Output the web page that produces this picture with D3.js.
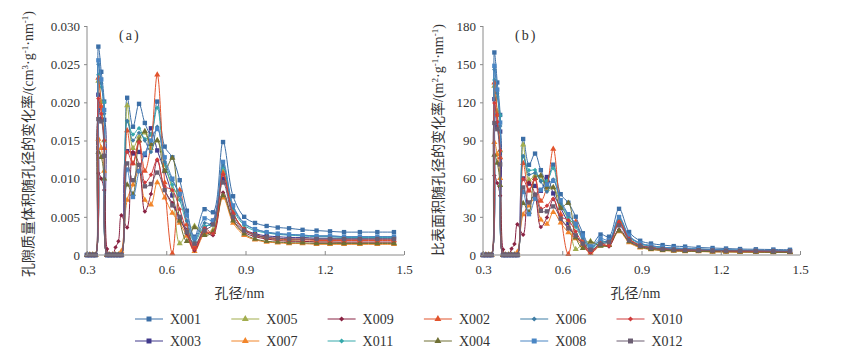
<!DOCTYPE html>
<html>
<head>
<meta charset="utf-8">
<script src="https://cdn.jsdelivr.net/npm/d3@7"></script>
<style>
  body { margin: 0; background: #fff; }
  svg { display: block; }
</style>
</head>
<body>
<div id="chart"></div>
<script>
// pore width grid (nm), shared by every series
const poreWidth = [0.300, 0.311, 0.322, 0.332, 0.343, 0.354, 0.365, 0.376, 0.386, 0.397, 0.408, 0.419, 0.430,
  0.452, 0.474, 0.497, 0.519, 0.542, 0.566, 0.594, 0.623, 0.651, 0.678, 0.707, 0.745, 0.777, 0.815,
  0.853, 0.895, 0.936, 0.980, 1.022, 1.065, 1.116, 1.169, 1.220, 1.273, 1.333, 1.399, 1.462];

// (a) pore volume change rate, cm3/g/nm
const volX001 = [0,0,0,0,0.0273,0.0240,0.0201,0,0,0,0,0,0, 0.0206,0.0168,0.0198,0.0173,0.0158,0.0201,0.0142,0.0128,0.0098,0.0058,0.0024,0.0060,0.0056,0.0148, 0.0077,0.0050,0.0042,0.0038,0.0036,0.0035,0.0033,0.0032,0.0031,0.0030,0.0030,0.0030,0.0030];
const volX002 = [0,0,0,0,0.0232,0.0195,0.0140,0,0,0,0,0,0, 0.0163,0.0120,0.0150,0.0110,0.0145,0.0236,0.0095,0.0002,0.0085,0.0040,0.0010,0.0030,0.0030,0.0107, 0.0055,0.0033,0.0026,0.0023,0.0021,0.0020,0.0020,0.0019,0.0019,0.0019,0.0019,0.0019,0.0019];
const volX003 = [0,0,0,0,0.0210,0.0178,0.0177,0,0,0,0,0,0, 0.0136,0.0133,0.0135,0.0131,0.0166,0.0137,0.0110,0.0078,0.0045,0.0033,0.0012,0.0035,0.0045,0.0100, 0.0054,0.0034,0.0028,0.0025,0.0024,0.0023,0.0023,0.0022,0.0022,0.0022,0.0022,0.0022,0.0022];
const volX004 = [0,0,0,0,0.0135,0.0128,0.0100,0,0,0,0,0,0, 0.0092,0.0080,0.0150,0.0162,0.0145,0.0150,0.0110,0.0127,0.0045,0.0018,0.0036,0.0026,0.0030,0.0078, 0.0045,0.0028,0.0021,0.0018,0.0017,0.0016,0.0016,0.0015,0.0015,0.0015,0.0015,0.0015,0.0015];
const volX005 = [0,0,0,0,0.0228,0.0200,0.0150,0,0,0,0,0,0, 0.0196,0.0140,0.0155,0.0160,0.0140,0.0150,0.0118,0.0085,0.0015,0.0030,0.0038,0.0028,0.0033,0.0110, 0.0055,0.0034,0.0026,0.0022,0.0020,0.0019,0.0018,0.0017,0.0017,0.0016,0.0016,0.0016,0.0016];
const volX006 = [0,0,0,0,0.0250,0.0225,0.0185,0,0,0,0,0,0, 0.0176,0.0150,0.0160,0.0150,0.0135,0.0168,0.0122,0.0098,0.0078,0.0045,0.0020,0.0042,0.0040,0.0118, 0.0063,0.0041,0.0034,0.0030,0.0028,0.0027,0.0026,0.0025,0.0025,0.0024,0.0024,0.0024,0.0024];
const volX007 = [0,0,0,0,0.0152,0.0140,0.0110,0,0,0,0,0,0.0005, 0.0072,0.0092,0.0110,0.0072,0.0066,0.0095,0.0075,0.0055,0.0042,0.0025,0.0005,0.0028,0.0030,0.0075, 0.0042,0.0026,0.0020,0.0017,0.0016,0.0015,0.0015,0.0014,0.0014,0.0014,0.0014,0.0014,0.0014];
const volX008 = [0,0,0,0,0.0255,0.0230,0.0190,0,0,0,0,0,0, 0.0112,0.0076,0.0110,0.0133,0.0150,0.0165,0.0128,0.0100,0.0080,0.0052,0.0022,0.0048,0.0045,0.0122, 0.0065,0.0042,0.0034,0.0030,0.0028,0.0027,0.0026,0.0025,0.0025,0.0024,0.0024,0.0024,0.0024];
const volX009 = [0,0,0,0,0.0107,0.0100,0.0085,0.0008,0,0,0.0010,0.0018,0.0052, 0.0036,0.0135,0.0118,0.0057,0.0080,0.0124,0.0085,0.0068,0.0048,0.0028,0.0006,0.0030,0.0026,0.0082, 0.0046,0.0030,0.0024,0.0021,0.0019,0.0018,0.0018,0.0017,0.0017,0.0017,0.0017,0.0017,0.0017];
const volX010 = [0,0,0,0,0.0205,0.0185,0.0150,0,0,0,0,0,0, 0.0135,0.0120,0.0148,0.0095,0.0105,0.0125,0.0090,0.0085,0.0060,0.0030,0.0008,0.0035,0.0028,0.0105, 0.0055,0.0034,0.0027,0.0023,0.0022,0.0021,0.0021,0.0020,0.0020,0.0020,0.0020,0.0020,0.0020];
const volX011 = [0,0,0,0,0.0236,0.0220,0.0200,0,0,0,0,0,0, 0.0175,0.0158,0.0166,0.0152,0.0158,0.0193,0.0120,0.0092,0.0072,0.0040,0.0018,0.0038,0.0040,0.0115, 0.0060,0.0039,0.0032,0.0029,0.0027,0.0026,0.0025,0.0024,0.0024,0.0023,0.0023,0.0023,0.0023];
const volX012 = [0,0,0,0,0.0178,0.0175,0.0130,0,0,0,0,0,0, 0.0120,0.0098,0.0118,0.0090,0.0093,0.0108,0.0085,0.0065,0.0050,0.0030,0.0015,0.0032,0.0040,0.0095, 0.0050,0.0032,0.0026,0.0023,0.0022,0.0021,0.0021,0.0021,0.0021,0.0021,0.0021,0.0021,0.0021];

// (b) specific surface area change rate, m2/g/nm
const areaX001 = [0,0,0,0,159.2,135.6,110.1,0,0,0,0,0,0, 91.2,70.9,79.7,66.7,58.3,71.0,47.8,41.1,30.1,17.1,6.8,16.1,14.4,36.3, 18.1,11.2,9.0,7.8,7.0,6.6,5.9,5.5,5.1,4.7,4.5,4.3,4.1];
const areaX002 = [0,0,0,0,135.3,110.2,76.7,0,0,0,0,0,0, 72.1,50.6,60.4,42.4,53.5,83.4,32.0,0.6,26.1,11.8,2.8,8.1,7.7,26.3, 12.9,7.4,5.6,4.7,4.1,3.8,3.6,3.3,3.1,3.0,2.9,2.7,2.6];
const areaX003 = [0,0,0,0,122.5,100.6,97.0,0,0,0,0,0,0, 60.2,56.1,54.3,50.5,61.3,48.4,37.0,25.0,13.8,9.7,3.4,9.4,11.6,24.5, 12.7,7.6,6.0,5.1,4.7,4.3,4.1,3.8,3.6,3.5,3.3,3.1,3.0];
const areaX004 = [0,0,0,0,78.7,72.3,54.8,0,0,0,0,0,0, 40.7,33.8,60.4,62.4,53.5,53.0,37.0,40.8,13.8,5.3,10.2,7.0,7.7,19.1, 10.6,6.3,4.5,3.7,3.3,3.0,2.9,2.6,2.5,2.4,2.3,2.1,2.1];
const areaX005 = [0,0,0,0,132.9,113.0,82.2,0,0,0,0,0,0, 86.7,59.1,62.4,61.7,51.7,53.0,39.7,27.3,4.6,8.9,10.8,7.5,8.5,27.0, 12.9,7.6,5.6,4.5,3.9,3.6,3.2,2.9,2.8,2.5,2.4,2.3,2.2];
const areaX006 = [0,0,0,0,145.8,127.1,101.4,0,0,0,0,0,0, 77.9,63.3,64.4,57.8,49.8,59.4,41.1,31.5,24.0,13.3,5.7,11.3,10.3,29.0, 14.8,9.2,7.3,6.1,5.5,5.1,4.7,4.3,4.1,3.8,3.6,3.4,3.3];
const areaX007 = [0,0,0,0,88.6,79.1,60.3,0,0,0,0,0,2.3, 31.9,38.8,44.3,27.7,24.4,33.6,25.3,17.7,12.9,7.4,1.4,7.5,7.7,18.4, 9.8,5.8,4.3,3.5,3.1,2.8,2.7,2.4,2.3,2.2,2.1,2.0,1.9];
const areaX008 = [0,0,0,0,148.7,130.0,104.1,0,0,0,0,0,0, 49.6,32.1,44.3,51.3,55.4,58.3,43.1,32.1,24.6,15.3,6.2,12.9,11.6,29.9, 15.2,9.4,7.3,6.1,5.5,5.1,4.7,4.3,4.1,3.8,3.6,3.4,3.3];
const areaX009 = [0,0,0,0,62.4,56.5,46.6,4.3,0,0,4.9,8.6,24.2, 15.9,57.0,47.5,22.0,29.5,43.8,28.6,21.8,14.7,8.3,1.7,8.1,6.7,20.1, 10.8,6.7,5.1,4.3,3.7,3.4,3.2,2.9,2.8,2.7,2.6,2.4,2.3];
const areaX010 = [0,0,0,0,119.5,104.5,82.2,0,0,0,0,0,0, 59.7,50.6,59.6,36.6,38.7,44.2,30.3,27.3,18.4,8.9,2.3,9.4,7.2,25.8, 12.9,7.6,5.8,4.7,4.3,3.9,3.8,3.4,3.3,3.1,3.0,2.9,2.7];
const areaX011 = [0,0,0,0,137.6,124.3,109.6,0,0,0,0,0,0, 77.4,66.7,66.8,58.6,58.3,68.2,40.4,29.5,22.1,11.8,5.1,10.2,10.3,28.2, 14.1,8.7,6.8,5.9,5.3,4.9,4.5,4.1,3.9,3.6,3.5,3.3,3.1];
const areaX012 = [0,0,0,0,103.8,98.9,71.2,0,0,0,0,0,0, 53.1,41.3,47.5,34.7,34.3,38.2,28.6,20.9,15.4,8.9,4.2,8.6,10.3,23.3, 11.7,7.2,5.6,4.7,4.3,3.9,3.8,3.6,3.4,3.3,3.2,3.0,2.9];

const widthTicks = [0.3, 0.6, 0.9, 1.2, 1.5];
const volTicks = [0, 0.005, 0.010, 0.015, 0.020, 0.025, 0.030];
const areaTicks = [0, 30, 60, 90, 120, 150, 180];

// drawing order follows the workbook series order
const seriesInfo = [
  { name: "X001", color: "#3c6fa7", shape: "square",   vol: volX001, area: areaX001 },
  { name: "X003", color: "#41398c", shape: "square",   vol: volX003, area: areaX003 },
  { name: "X005", color: "#a2ad4e", shape: "triangle", vol: volX005, area: areaX005 },
  { name: "X007", color: "#f2852a", shape: "triangle", vol: volX007, area: areaX007 },
  { name: "X009", color: "#8a2343", shape: "diamond",  vol: volX009, area: areaX009 },
  { name: "X011", color: "#35a9ab", shape: "diamond",  vol: volX011, area: areaX011 },
  { name: "X002", color: "#e2532c", shape: "triangle", vol: volX002, area: areaX002 },
  { name: "X004", color: "#6f7034", shape: "triangle", vol: volX004, area: areaX004 },
  { name: "X006", color: "#3e7da5", shape: "diamond",  vol: volX006, area: areaX006 },
  { name: "X008", color: "#4a86c4", shape: "square",   vol: volX008, area: areaX008 },
  { name: "X010", color: "#d03c3c", shape: "diamond",  vol: volX010, area: areaX010 },
  { name: "X012", color: "#6b5e72", shape: "square",   vol: volX012, area: areaX012 }
];
const legendOrder = ["X001", "X005", "X009", "X002", "X006", "X010",
                     "X003", "X007", "X011", "X004", "X008", "X012"];

const W = 849, H = 350;
const axisColor = "#8a8a8a";
const textColor = "#333";
const serif = "'Liberation Serif', 'Times New Roman', serif";
const cjk = "'Noto Sans CJK SC', 'Liberation Serif', serif";

const svg = d3.select("#chart").append("svg").attr("width", W).attr("height", H);

function markerPath(shape, big) {
  const k = big ? 1.3 : 1;
  if (shape === "square") return d3.symbol().type(d3.symbolSquare).size(19 * k)();
  if (shape === "triangle") return d3.symbol().type(d3.symbolTriangle).size(16 * k)();
  return d3.symbol().type(d3.symbolSquare).size(10 * k)();
}
function markerRotate(shape) { return shape === "diamond" ? " rotate(45)" : ""; }

function drawPanel(opts) {
  const x = d3.scaleLinear().domain([0.3, 1.5]).range([opts.left, opts.right]);
  const y = d3.scaleLinear().domain([0, opts.max]).range([255, 26]);
  const g = svg.append("g");

  const line = d3.line()
    .x((d, i) => x(poreWidth[i]))
    .y(d => y(d))
    .curve(d3.curveCatmullRom.alpha(0.5));

  seriesInfo.forEach(s => {
    const vals = s[opts.key];
    const sg = g.append("g");
    sg.append("path").datum(vals)
      .attr("d", line)
      .attr("fill", "none")
      .attr("stroke", s.color)
      .attr("stroke-width", 1);
    sg.selectAll("path.mk").data(vals).join("path")
      .attr("class", "mk")
      .attr("d", markerPath(s.shape))
      .attr("transform", (d, i) => `translate(${x(poreWidth[i])},${y(d)})` + markerRotate(s.shape))
      .attr("fill", s.color);
  });

  // axes
  const xAxis = g.append("g").attr("transform", "translate(0,255)")
    .call(d3.axisBottom(x).tickValues(widthTicks).tickSize(-4).tickPadding(10).tickFormat(d3.format(".1f")));
  const yAxis = g.append("g").attr("transform", `translate(${opts.left},0)`)
    .call(d3.axisLeft(y).tickValues(opts.ticks).tickSize(3).tickPadding(4).tickFormat(opts.fmt));
  [xAxis, yAxis].forEach(a => {
    a.select(".domain").attr("stroke", axisColor).attr("stroke-width", 1);
    a.selectAll(".tick line").attr("stroke", axisColor);
    a.selectAll(".tick text").attr("fill", textColor).style("font-family", serif).style("font-size", "13px");
  });
  xAxis.select(".domain").attr("d", `M${opts.left},0H${opts.right}`);
  yAxis.select(".domain").attr("d", "M0,255V26");

  // panel tag
  g.append("text").attr("x", opts.left + 32).attr("y", 40)
    .attr("fill", textColor).style("font-family", serif).style("font-size", "14px")
    .style("letter-spacing", "2px").text(opts.tag);

  // x title
  const xt = g.append("text").attr("x", (opts.left + opts.right) / 2 - 6).attr("y", 298)
    .attr("text-anchor", "middle").attr("fill", textColor).style("font-size", "14px");
  xt.append("tspan").style("font-family", cjk).text("孔径");
  xt.append("tspan").style("font-family", serif).text("/nm");

  // y title, rotated, with superscripts
  const yt = g.append("text")
    .attr("transform", `translate(${opts.titleX},${opts.titleY}) rotate(-90)`)
    .attr("text-anchor", "middle").attr("fill", textColor).style("font-size", "14px");
  yt.append("tspan").style("font-family", cjk).text(opts.titleCn);
  opts.titleUnit.forEach(p => {
    yt.append("tspan").style("font-family", serif)
      .style("font-size", p.sup ? "9px" : "14px")
      .attr("dy", p.sup ? -5 : (p.after ? 5 : 0))
      .text(p.t);
  });
}

drawPanel({
  key: "vol", left: 87, right: 404, max: 0.030, ticks: volTicks,
  fmt: d => d === 0 ? "0" : d3.format(".3f")(d), tag: "(a)",
  titleX: 33, titleY: 144, titleCn: "孔隙质量体积随孔径的变化率",
  titleUnit: [{ t: "/(cm" }, { t: "3", sup: true }, { t: "·g", after: true }, { t: "-1", sup: true },
              { t: "·nm", after: true }, { t: "-1", sup: true }, { t: ")", after: true }]
});
drawPanel({
  key: "area", left: 483, right: 800, max: 180, ticks: areaTicks,
  fmt: d => String(d), tag: "(b)",
  titleX: 443, titleY: 140, titleCn: "比表面积随孔径的变化率",
  titleUnit: [{ t: "/(m" }, { t: "2", sup: true }, { t: "·g", after: true }, { t: "-1", sup: true },
              { t: "·nm", after: true }, { t: "-1", sup: true }, { t: ")", after: true }]
});

// legend, 6 columns x 2 rows
const byName = new Map(seriesInfo.map(s => [s.name, s]));
const legend = svg.append("g");
legendOrder.forEach((name, i) => {
  const s = byName.get(name);
  const lx = 135 + (i % 6) * 96.3;
  const ly = i < 6 ? 319 : 341;
  const lg = legend.append("g").attr("transform", `translate(${lx},${ly})`);
  lg.append("line").attr("x1", 0).attr("x2", 28).attr("y1", 0).attr("y2", 0)
    .attr("stroke", s.color).attr("stroke-opacity", 0.5).attr("stroke-width", 2);
  lg.append("path").attr("d", markerPath(s.shape, true))
    .attr("transform", "translate(14,0)" + markerRotate(s.shape)).attr("fill", s.color);
  lg.append("text").attr("x", 35).attr("y", 5)
    .attr("fill", textColor).style("font-family", serif).style("font-size", "14px").text(name);
});
</script>
</body>
</html>
